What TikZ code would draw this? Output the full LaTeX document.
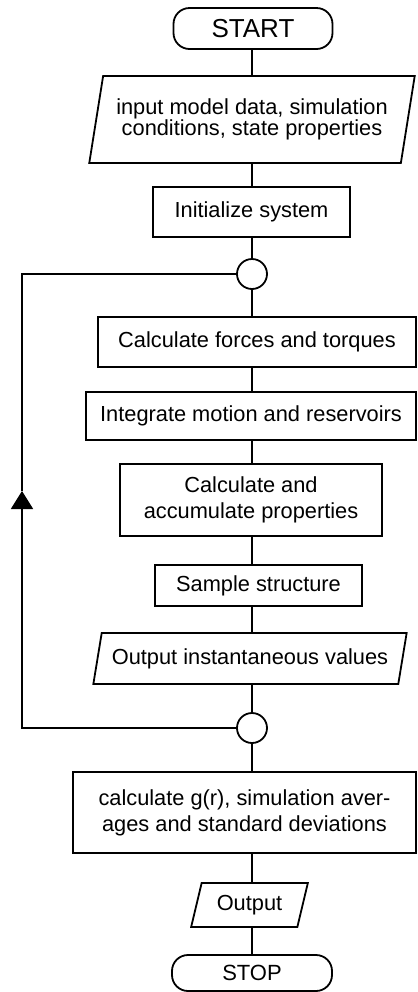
\documentclass[tikz,border=0pt]{standalone}
\usepackage{fontspec}
\setmainfont{Liberation Sans}
\usetikzlibrary{shapes.geometric,arrows.meta}

\begin{document}
\begin{tikzpicture}[x=0.5pt, y=-0.5pt, line width=0.9pt,
    every node/.style={draw, align=center, inner sep=0pt, font=\fontsize{10.9}{13}\selectfont},
    box/.style={rectangle},
    term/.style={rectangle, rounded corners=8pt},
    io/.style={trapezium, trapezium stretches=true},
    junction/.style={circle, minimum size=15pt}]
    \useasboundingbox (0,0) rectangle (418,992);

    % Inizio e dati
    \node[term, minimum width=79.5pt, minimum height=20.5pt, font=\fontsize{13}{15}\selectfont] (start) at (253,28.5) {START};
    \node[io, trapezium left angle=73, trapezium right angle=107, minimum width=163pt, minimum height=43.5pt, font=\fontsize{10.9}{10.5}\selectfont] (input) at (252,119.5) {input model data, simulation\\conditions, state properties};
    \node[box, minimum width=98.5pt, minimum height=25pt] (init) at (251.5,212) {Initialize system};

    % Ciclo principale
    \node[junction] (loop1) at (252,274) {};
    \node[box, minimum width=159pt, minimum height=25pt] (forces) at (257,342) {Calculate forces and torques};
    \node[box, minimum width=165pt, minimum height=24pt] (integrate) at (251,416) {Integrate motion and reservoirs};
    \node[box, minimum width=131pt, minimum height=36pt] (accum) at (251,500) {Calculate and\\accumulate properties};
    \node[box, minimum width=103.5pt, minimum height=20.5pt] (sample) at (258.5,585.5) {Sample structure};
    \node[io, trapezium left angle=69, trapezium right angle=111, minimum width=157pt, minimum height=25.5pt] (instant) at (250,658.5) {Output instantaneous values};
    \node[junction] (loop2) at (252,728) {};

    % Fine
    \node[box, minimum width=171.5pt, minimum height=40.5pt] (averages) at (244.5,812.5) {calculate g(r), simulation aver-\\ages and standard deviations};
    \node[io, trapezium left angle=70, trapezium right angle=110, minimum width=58.5pt, minimum height=22pt] (output) at (249.5,905) {Output};
    \node[term, minimum width=80pt, minimum height=18pt, font=\fontsize{11}{13}\selectfont] (stop) at (252,973) {STOP};

    % Collegamenti
    \coordinate (axis) at (252,0);
    \foreach \a/\b in {start/input, input/init, init/loop1, loop1/forces, forces/integrate,
        integrate/accum, accum/sample, sample/instant, instant/loop2, loop2/averages,
        averages/output, output/stop}
        \draw (axis |- \a.south) -- (axis |- \b.north);

    % Ritorno
    \coordinate (top) at (22,274);
    \coordinate (bottom) at (22,728);
    \coordinate (tip) at (22,491);
    \draw[-{Triangle[length=9pt, width=11pt]}] (loop2.west) -- (bottom) -- (tip);
    \draw (tip) -- (top) -- (loop1.west);
\end{tikzpicture}
\end{document}
